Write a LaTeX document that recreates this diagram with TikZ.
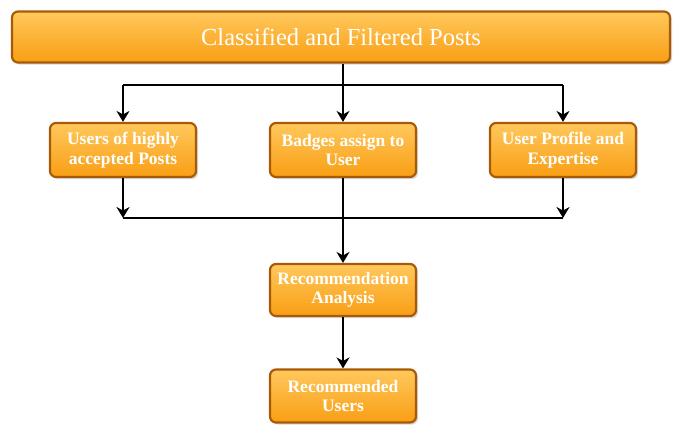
\documentclass[tikz,border=0pt]{standalone}
\usepackage{fontspec}
\setmainfont{Liberation Serif}
\usetikzlibrary{arrows.meta,shadows}
\definecolor{boxtop}{HTML}{FFC85C}
\definecolor{boxbot}{HTML}{F99E14}
\definecolor{boxline}{HTML}{A85A08}
\tikzset{
  obox/.style={draw=boxline, line width=2.2pt, rounded corners=6pt,
    top color=boxtop, bottom color=boxbot, text=white,
    drop shadow={shadow xshift=2pt, shadow yshift=-2pt, opacity=0.3},
    align=center, inner sep=0pt},
  smallbox/.style={obox, minimum width=146pt, minimum height=54pt,
    font=\bfseries\fontsize{17.5}{19.5}\selectfont},
  conn/.style={line width=2.6pt, black},
  hconn/.style={line width=2.2pt, black},
  arr/.style={conn, -{Stealth[length=11pt,width=13pt]}}
}
\begin{document}
\begin{tikzpicture}[x=1pt,y=-1pt]
\useasboundingbox (0,0) rectangle (676,426);
\node[obox, minimum width=658pt, minimum height=51pt,
  font=\fontsize{24.5}{26}\selectfont] (top) at (341,37) {Classified and Filtered Posts};
\node[smallbox] (a) at (123,150) {Users of highly\\accepted Posts};
\node[smallbox] (b) at (343,150) {Badges assign to\\User};
\node[smallbox] (c) at (563,150) {User Profile and\\Expertise};
\node[smallbox, minimum height=52pt] (d) at (343,290) {Recommendation\\Analysis};
\node[smallbox, minimum height=53pt] (e) at (343,396) {Recommended\\Users};
\coordinate (split) at (343,85);
\coordinate (sl) at (a.north |- split);
\coordinate (sr) at (c.north |- split);
\coordinate (join) at (343,218);
\coordinate (jl) at (a.south |- join);
\coordinate (jr) at (c.south |- join);
\draw[conn] (top.south -| split) -- (split);
\draw[hconn] (sl) -- (sr);
\draw[arr] (sl) -- (a.north);
\draw[arr] (split) -- (b.north);
\draw[arr] (sr) -- (c.north);
\draw[arr] (a.south) -- (jl);
\draw[arr] (c.south) -- (jr);
\draw[hconn] (jl) -- (jr);
\draw[arr] (b.south) -- (d.north);
\draw[arr] (d.south) -- (e.north);
\end{tikzpicture}
\end{document}
